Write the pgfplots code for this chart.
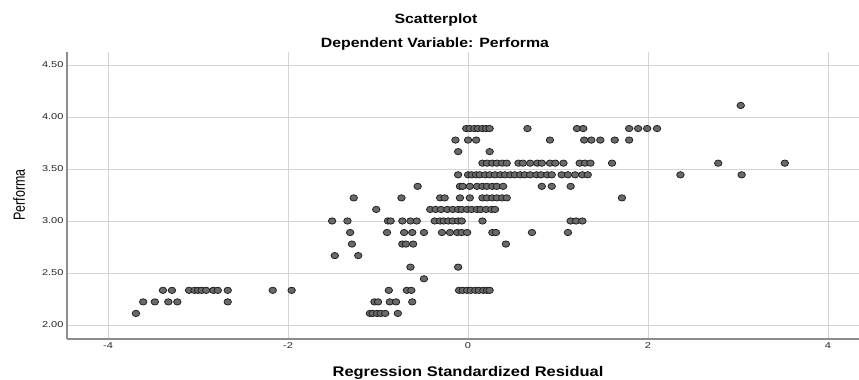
\documentclass[border=0pt]{standalone}
\usepackage{pgfplots}
\pgfplotsset{compat=1.18}
\usepackage{fontspec}
\setmainfont{Liberation Sans}
\newfontfamily\tickfont[FakeStretch=1.3]{Liberation Sans}
\newfontfamily\titlefont[FakeStretch=1.18]{Liberation Sans}
\definecolor{ptfill}{RGB}{105,105,105}
\definecolor{ptedge}{RGB}{30,30,30}
\definecolor{gridc}{RGB}{212,212,212}
\definecolor{axisc}{RGB}{140,140,140}
\begin{document}
\begin{tikzpicture}[x=1bp,y=1bp]
\useasboundingbox (0,0) rectangle (859,379);
\begin{axis}[
  at={(67bp,40bp)}, anchor=south west,
  scale only axis, width=792bp, height=287bp,
  xmin=-4.456, xmax=4.344, ymin=1.865, ymax=4.625,
  axis x line*=bottom, axis y line*=left,
  axis line style={draw=axisc, line width=1.4bp},
  xtick={-4,-2,0,2,4}, ytick={2,2.5,3,3.5,4,4.5},
  major tick length=0pt,
  grid=major, grid style={draw=gridc, line width=0.9bp},
  /pgf/number format/assume math mode=true,
  tick label style={font=\tickfont\fontsize{8.5}{9}\selectfont, text=black!85},
  yticklabel style={/pgf/number format/.cd, fixed, fixed zerofill, precision=2},
  xticklabel style={/pgf/number format/.cd, fixed, precision=0},
  clip=false,
]
\addplot[only marks, mark=*, mark size=3.35bp,
  mark options={fill=ptfill, draw=ptedge, line width=0.75bp, xscale=1.12, yscale=0.95}]
table[row sep=\\] {
x y\\
3.03 4.111\\
-0.02 3.889\\ 0.02 3.889\\ 0.07 3.889\\ 0.11 3.889\\ 0.16 3.889\\ 0.20 3.889\\ 0.24 3.889\\ 0.66 3.889\\ 1.21 3.889\\ 1.28 3.889\\ 1.79 3.889\\ 1.89 3.889\\ 1.99 3.889\\ 2.10 3.889\\
-0.14 3.778\\ 0.00 3.778\\ 0.09 3.778\\ 0.91 3.778\\ 1.29 3.778\\ 1.37 3.778\\ 1.47 3.778\\ 1.63 3.778\\ 1.79 3.778\\
-0.11 3.667\\ 0.24 3.667\\
0.16 3.556\\ 0.21 3.556\\ 0.27 3.556\\ 0.32 3.556\\ 0.38 3.556\\ 0.43 3.556\\ 0.56 3.556\\ 0.61 3.556\\ 0.69 3.556\\ 0.77 3.556\\ 0.82 3.556\\ 0.91 3.556\\ 0.97 3.556\\ 1.06 3.556\\ 1.24 3.556\\ 1.30 3.556\\ 1.36 3.556\\ 1.60 3.556\\ 2.78 3.556\\ 3.52 3.556\\
-0.11 3.444\\ 0.00 3.444\\ 0.04 3.444\\ 0.09 3.444\\ 0.13 3.444\\ 0.19 3.444\\ 0.24 3.444\\ 0.30 3.444\\ 0.36 3.444\\ 0.41 3.444\\ 0.47 3.444\\ 0.52 3.444\\ 0.58 3.444\\ 0.63 3.444\\ 0.69 3.444\\ 0.76 3.444\\ 0.81 3.444\\ 0.88 3.444\\ 0.93 3.444\\ 1.04 3.444\\ 1.11 3.444\\ 1.19 3.444\\ 1.27 3.444\\ 1.33 3.444\\ 2.36 3.444\\ 3.04 3.444\\
-0.56 3.333\\ -0.09 3.333\\ -0.06 3.333\\ 0.02 3.333\\ 0.10 3.333\\ 0.16 3.333\\ 0.21 3.333\\ 0.27 3.333\\ 0.32 3.333\\ 0.39 3.333\\ 0.82 3.333\\ 0.93 3.333\\ 1.14 3.333\\
-1.27 3.222\\ -0.74 3.222\\ -0.31 3.222\\ -0.26 3.222\\ -0.09 3.222\\ 0.02 3.222\\ 0.16 3.222\\ 0.21 3.222\\ 0.27 3.222\\ 0.32 3.222\\ 0.38 3.222\\ 0.43 3.222\\ 1.71 3.222\\
-1.02 3.111\\ -0.42 3.111\\ -0.36 3.111\\ -0.30 3.111\\ -0.23 3.111\\ -0.17 3.111\\ -0.11 3.111\\ -0.07 3.111\\ -0.01 3.111\\ 0.04 3.111\\ 0.10 3.111\\ 0.14 3.111\\ 0.20 3.111\\ 0.26 3.111\\ 0.30 3.111\\
-1.51 3.000\\ -1.34 3.000\\ -0.89 3.000\\ -0.86 3.000\\ -0.73 3.000\\ -0.64 3.000\\ -0.57 3.000\\ -0.37 3.000\\ -0.31 3.000\\ -0.27 3.000\\ -0.22 3.000\\ -0.17 3.000\\ -0.11 3.000\\ -0.07 3.000\\ 0.16 3.000\\ 1.14 3.000\\ 1.20 3.000\\ 1.27 3.000\\
-1.31 2.889\\ -0.90 2.889\\ -0.71 2.889\\ -0.62 2.889\\ -0.49 2.889\\ -0.29 2.889\\ -0.20 2.889\\ -0.12 2.889\\ -0.07 2.889\\ -0.01 2.889\\ 0.27 2.889\\ 0.31 2.889\\ 0.71 2.889\\ 1.11 2.889\\
-1.29 2.778\\ -0.73 2.778\\ -0.69 2.778\\ -0.61 2.778\\ 0.42 2.778\\
-1.48 2.667\\ -1.22 2.667\\
-0.64 2.556\\ -0.11 2.556\\
-0.49 2.444\\
-3.39 2.333\\ -3.29 2.333\\ -3.10 2.333\\ -3.04 2.333\\ -3.00 2.333\\ -2.96 2.333\\ -2.91 2.333\\ -2.83 2.333\\ -2.78 2.333\\ -2.67 2.333\\ -2.17 2.333\\ -1.96 2.333\\ -0.88 2.333\\ -0.68 2.333\\ -0.63 2.333\\ -0.10 2.333\\ -0.06 2.333\\ -0.01 2.333\\ 0.03 2.333\\ 0.08 2.333\\ 0.12 2.333\\ 0.17 2.333\\ 0.21 2.333\\ 0.24 2.333\\
-3.61 2.222\\ -3.48 2.222\\ -3.33 2.222\\ -3.23 2.222\\ -2.67 2.222\\ -1.04 2.222\\ -1.00 2.222\\ -0.87 2.222\\ -0.80 2.222\\ -0.62 2.222\\
-3.69 2.111\\ -1.09 2.111\\ -1.06 2.111\\ -1.01 2.111\\ -0.97 2.111\\ -0.92 2.111\\ -0.78 2.111\\
};
\end{axis}
\node[anchor=base, font=\titlefont\bfseries\fontsize{13.5}{15}\selectfont] at (436,356) {Scatterplot};
\node[anchor=base, font=\titlefont\bfseries\fontsize{13.5}{15}\selectfont] at (435,332) {Dependent Variable: Performa};
\node[anchor=base, font=\titlefont\bfseries\fontsize{14}{15}\selectfont] at (468,3) {Regression Standardized Residual};
\node[rotate=90, font=\fontsize{12.5}{14}\selectfont] at (19,184) {\scalebox{1}[1.3]{Performa}};
\end{tikzpicture}
\end{document}
